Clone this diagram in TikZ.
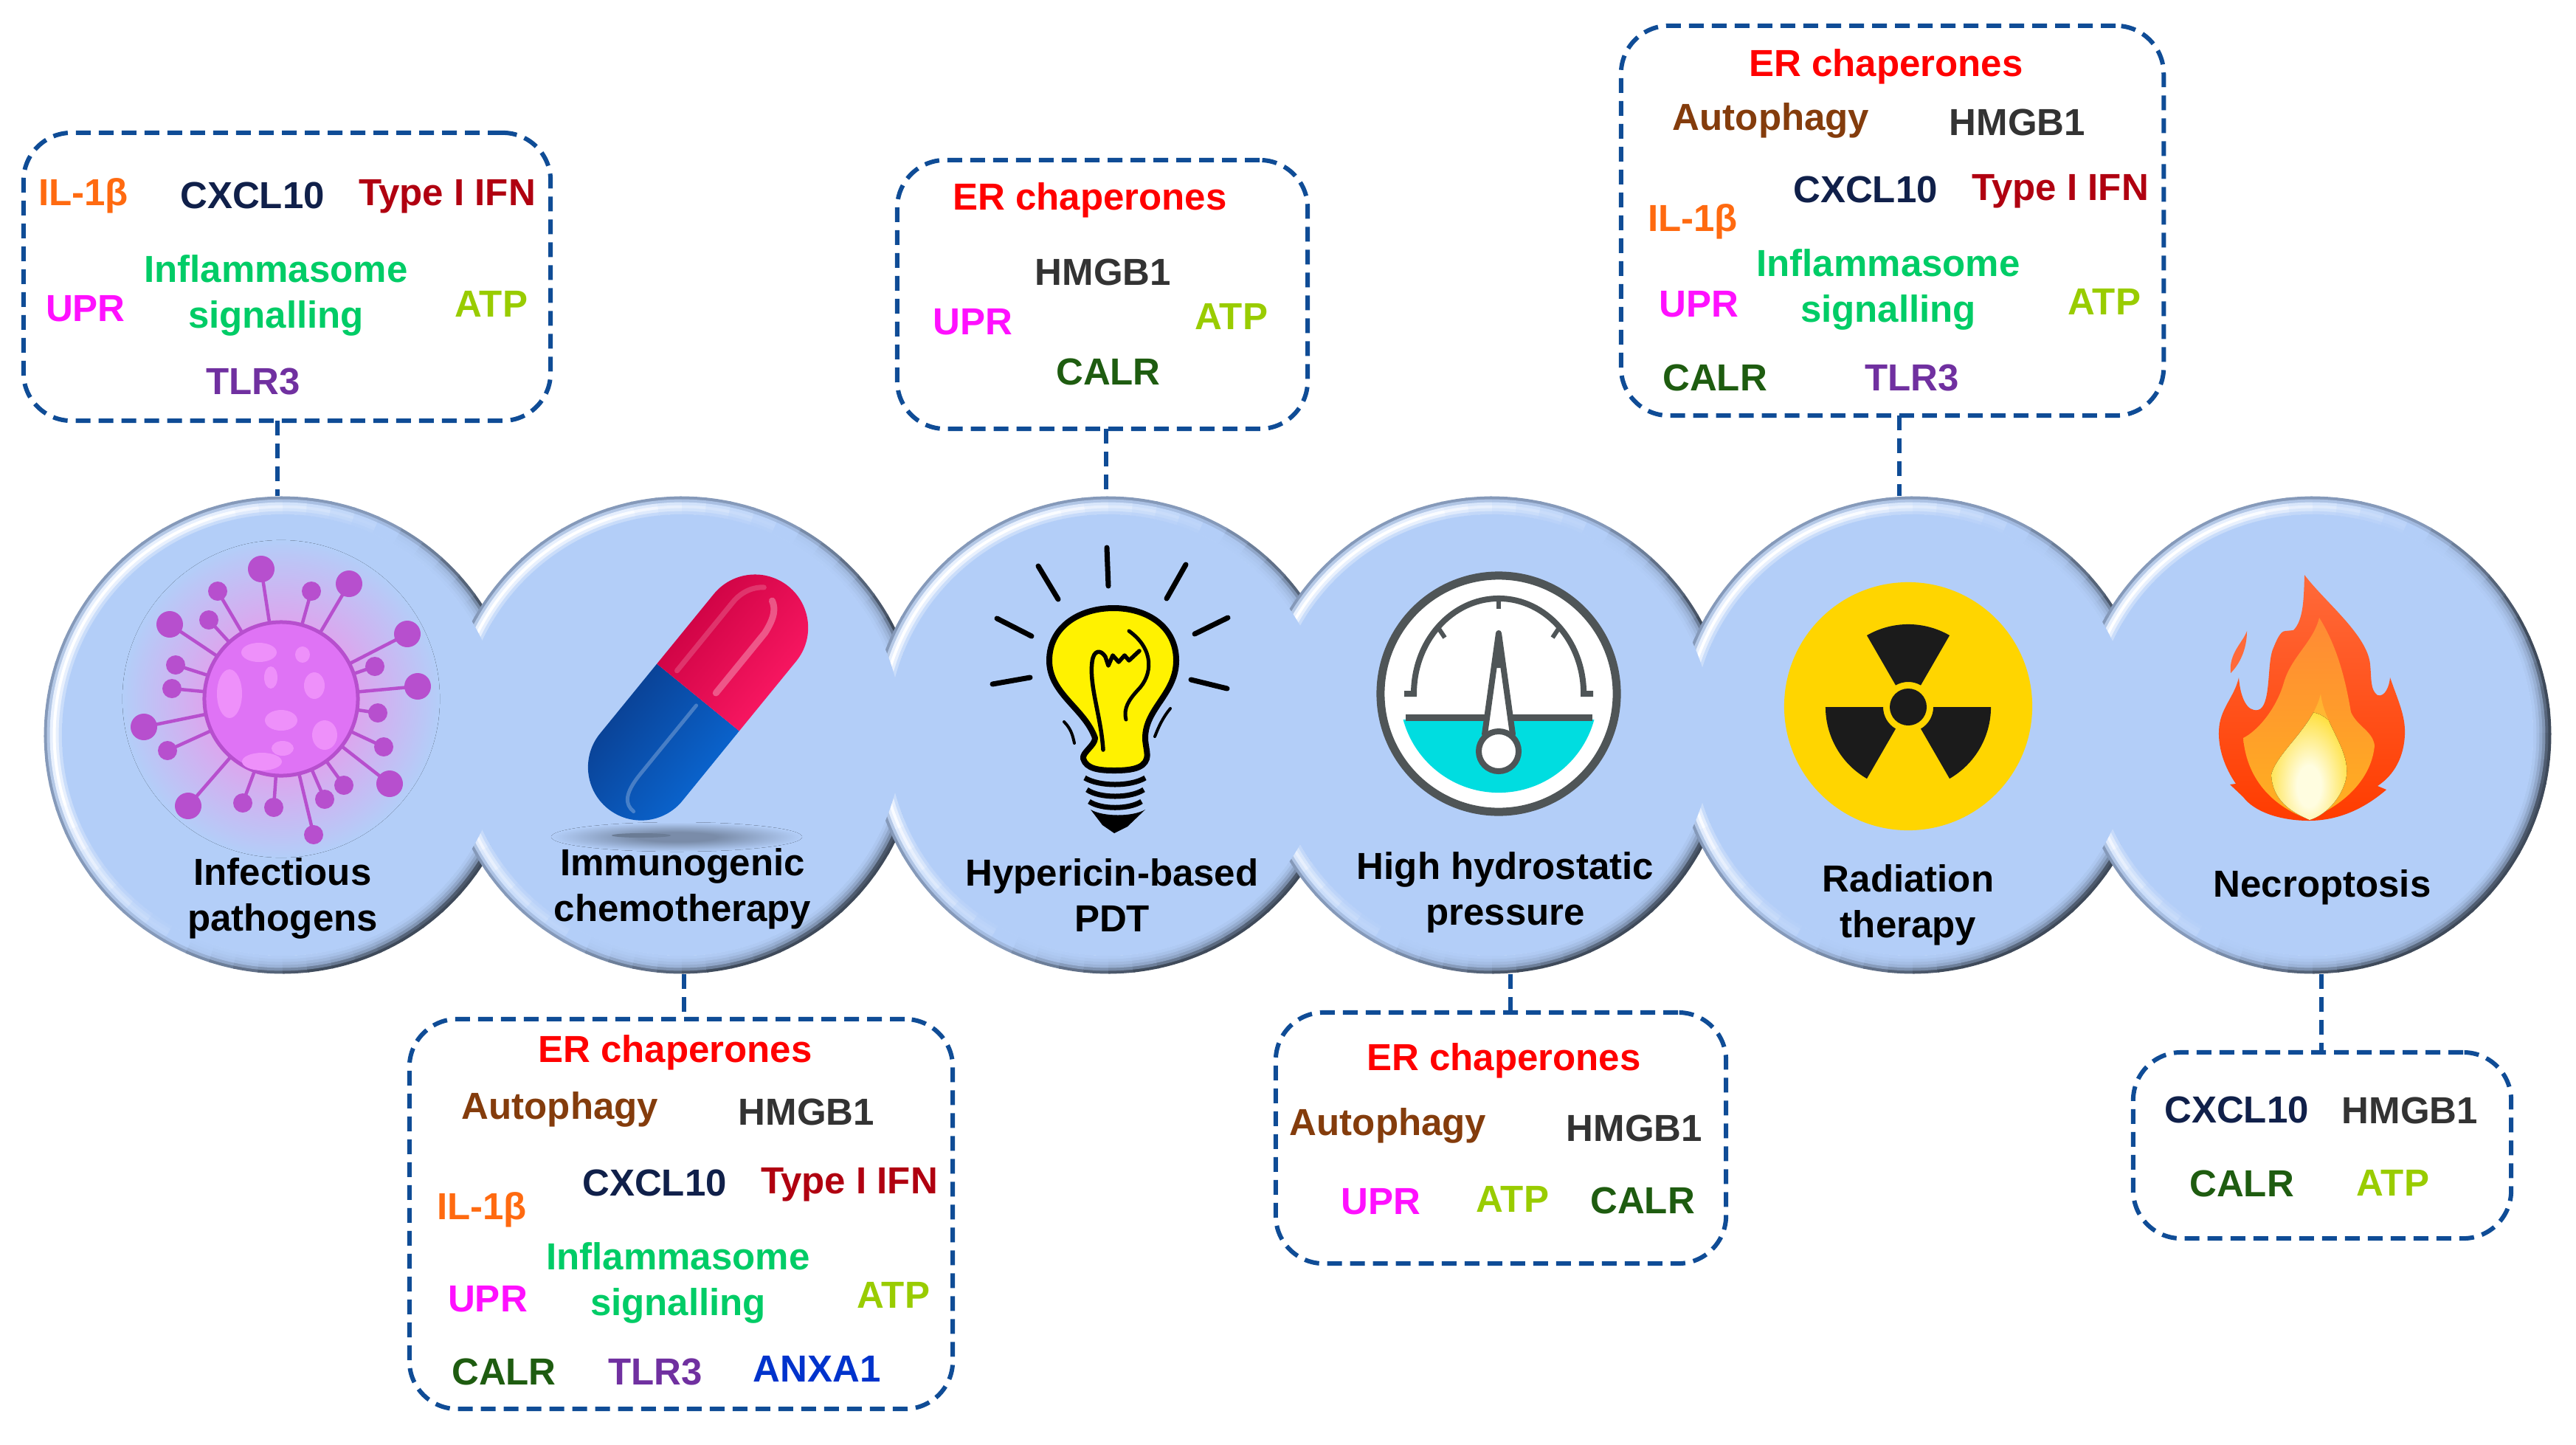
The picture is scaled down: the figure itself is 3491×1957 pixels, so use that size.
\documentclass[tikz,border=0pt]{standalone}
\usepackage{fontspec}
\setmainfont{Liberation Sans}
\definecolor{base}{HTML}{B3CEF8}
\definecolor{ringdark}{HTML}{3F4A5A}
\definecolor{dashblue}{HTML}{0F4C96}
\definecolor{erred}{HTML}{FF0000}
\definecolor{ilorange}{HTML}{FF6A10}
\definecolor{cxnavy}{HTML}{10204A}
\definecolor{ifnred}{HTML}{B00010}
\definecolor{infgreen}{HTML}{00CC66}
\definecolor{uprpink}{HTML}{FF10FF}
\definecolor{atplime}{HTML}{99CC00}
\definecolor{tlrpurple}{HTML}{7030A0}
\definecolor{autobrown}{HTML}{843C0C}
\definecolor{hmgray}{HTML}{333333}
\definecolor{calgreen}{HTML}{1E5C10}
\definecolor{anxblue}{HTML}{0033CC}
\definecolor{virus}{HTML}{B74FCE}
\definecolor{virusbody}{HTML}{DF73F5}
\definecolor{virusspot}{HTML}{EE90FA}
\definecolor{virusglow}{HTML}{DCA6EE}
\definecolor{gaugeink}{HTML}{4F5557}
\definecolor{gaugecyan}{HTML}{00DDE0}
\definecolor{bulbyellow}{HTML}{FFF200}
\definecolor{radyellow}{HTML}{FFD500}
\definecolor{radblack}{HTML}{1B1B1B}
\definecolor{flameyel}{HTML}{FFE040}
\definecolor{flamecore}{HTML}{FFFDE0}
\definecolor{flameA}{HTML}{FF6A3A}
\definecolor{flameB}{HTML}{FF3C00}
\definecolor{flameC}{HTML}{FF8A35}
\definecolor{flameD}{HTML}{FFB020}
\definecolor{flameE}{HTML}{FFB030}
\definecolor{capA}{HTML}{0A3C8C}
\definecolor{capB}{HTML}{0A6AD8}
\definecolor{capC}{HTML}{C80040}
\definecolor{capD}{HTML}{FF1A66}
\pgfdeclareradialshading{glowv}{\pgfpoint{0bp}{0bp}}{color(0bp)=(virusglow); color(12bp)=(virusglow); color(25bp)=(base); color(50bp)=(base)}
\pgfdeclareradialshading{glowf}{\pgfpoint{0bp}{0bp}}{color(0bp)=(flamecore); color(7bp)=(flamecore); color(25bp)=(flameyel); color(50bp)=(flameyel)}
\colorlet{shadowmid}{black!32!base}
\pgfdeclareradialshading{shadowc}{\pgfpoint{0bp}{0bp}}{color(0bp)=(shadowmid); color(8bp)=(shadowmid); color(25bp)=(base); color(50bp)=(base)}
\newcommand\tagfont{\fontsize{14.5}{17.4}\selectfont\bfseries}
\tikzset{
  calloutbox/.style={draw=dashblue,line width=.06cm,dash pattern=on .2cm off .11cm,rounded corners=.65cm,inner sep=0pt},
  conn/.style={draw=dashblue,line width=.06cm,dash pattern=on .2cm off .11cm},
  discouter/.style={circle,minimum size=6.46cm,inner sep=0pt},
  discinner/.style={circle,minimum size=5.98cm,inner sep=0pt,fill=base},
  tag/.style={font=\tagfont,anchor=base,inner sep=0pt,align=center},
  tagER/.style={tag,text=erred},
  tagIL/.style={tag,text=ilorange},
  tagCX/.style={tag,text=cxnavy},
  tagIF/.style={tag,text=ifnred},
  tagIN/.style={tag,text=infgreen},
  tagUP/.style={tag,text=uprpink},
  tagAT/.style={tag,text=atplime},
  tagTL/.style={tag,text=tlrpurple},
  tagAU/.style={tag,text=autobrown},
  tagHM/.style={tag,text=hmgray},
  tagCA/.style={tag,text=calgreen},
  tagAN/.style={tag,text=anxblue},
  disclabel/.style={tag,text=black},
}
\begin{document}
\begin{tikzpicture}[x=0.01cm,y=-0.01cm]
\useasboundingbox (0,0) rectangle (3491,1957);
\fill[white] (0,0) rectangle (3491,1957);
% discs
\node[discouter] (c1) at (383,996) {};
\node[discouter] (c2) at (924,996) {};
\node[discouter] (c3) at (1502,996) {};
\node[discouter] (c4) at (2022,996) {};
\node[discouter] (c5) at (2592,996) {};
\node[discouter] (c6) at (3134,996) {};
\foreach \cn in {c1,c2,c3,c4,c5,c6} {
  \foreach \a in {0,6,...,354} {
    \pgfmathsetmacro\tv{cos(\a+30)}
    \pgfmathsetmacro\tp{max(\tv,0)}
    \pgfmathsetmacro\tm{min(max(-\tv*1.4,0),1)}
    \foreach \R/\fd/\fw/\ed in {3.21/1/0/.4,3.17/.75/.2/.15,3.13/.5/.7/0,3.09/.3/1/0,3.05/.15/.7/0,3.01/.05/.3/0} {
      \pgfmathsetmacro\dk{100*min(1,\ed+\fd*\tp)}
      \pgfmathsetmacro\wk{100-100*\fw*\tm}
      \draw[line width=.045cm,color={ringdark!\dk!base!\wk!white}]
        ([shift={(\a:\R cm)}]\cn.center) arc[start angle=\a,delta angle=6.5,radius=\R cm];
    }
  }
}
\foreach \cn in {c1,c2,c3,c4,c5,c6} { \node[discinner] at (\cn.center) {}; }
% virus
\fill[shading=glowv] (381,947) circle[radius=2.15cm];
\foreach \x/\y/\r in {354/771/18,295/801/13,422/801/13,473/791/18,230/846/18,283/840/13,552/859/18,238/901/13,233/933/13,508/903/13,566/930/18,512/966/13,195/985/18,227/1017/13,520/1012/13,528/1062/18,466/1064/13,440/1083/13,425/1131/13,255/1092/18,329/1088/13,371/1094/13} {
  \draw[virus,line width=.045cm] (381,947) -- (\x,\y);
  \fill[virus] (\x,\y) circle[radius=\r*0.01cm];
}
\fill[virusbody,draw=virus,line width=.05cm] (381,947) circle[radius=1.04cm];
\foreach \x/\y/\rx/\ry in {351/884/24/13,410/887/10/11,311/940/17/33,426/929/14/18,367/918/9/15,381/976/22/14,440/996/17/20,383/1014/15/10,355/1032/27/12} {
  \fill[virusspot] (\x,\y) ellipse[x radius=\rx*0.01cm,y radius=\ry*0.01cm];
}
% capsule
\fill[shading=shadowc] (917,1134) ellipse[x radius=1.7cm,y radius=.2cm];
\fill[black!40!base] (869,1132) ellipse[x radius=.4cm,y radius=.03cm];
\begin{scope}[shift={(946,945)},rotate=50.8]
  \shade[top color=capA,bottom color=capB,shading angle=50.8]
    (0,-72) -- (-122,-72) arc[start angle=90,end angle=270,radius=.72cm] -- (0,72) -- cycle;
  \shade[top color=capC,bottom color=capD,shading angle=50.8]
    (0,-72) -- (122,-72) arc[start angle=90,end angle=-90,radius=.72cm] -- (0,72) -- cycle;
  \draw[white,opacity=.25,line width=.05cm,line cap=round] (-10,5) -- (-130,5) .. controls (-165,5) and (-175,15) .. (-175,30);
  \draw[white,opacity=.3,line width=.09cm,line cap=round] (20,15) -- (125,15) .. controls (150,12) and (160,5) .. (165,-5);
  \draw[white,opacity=.18,line width=.07cm,line cap=round] (10,-45) -- (130,-45) .. controls (150,-45) and (165,-35) .. (172,-25);
\end{scope}
% bulb
\draw[black,line width=.07cm,line cap=round] (1500,742) -- (1502,794);
\draw[black,line width=.07cm,line cap=round] (1407,767) -- (1434,812);
\draw[black,line width=.07cm,line cap=round] (1607,765) -- (1581,811);
\draw[black,line width=.07cm,line cap=round] (1351,838) -- (1398,862);
\draw[black,line width=.07cm,line cap=round] (1664,837) -- (1619,859);
\draw[black,line width=.07cm,line cap=round] (1345,927) -- (1396,918);
\draw[black,line width=.07cm,line cap=round] (1663,933) -- (1614,921);
\draw[black,line width=.04cm,line cap=round] (1442,978) .. controls (1452,988) and (1454,998) .. (1456,1007);
\draw[black,line width=.04cm,line cap=round] (1586,960) .. controls (1576,972) and (1570,985) .. (1565,998);
\fill[bulbyellow,draw=black,line width=.08cm,line join=round]
  (1484,1000) .. controls (1470,960) and (1422,940) .. (1422,895)
  .. controls (1422,850) and (1462,824) .. (1509,824)
  .. controls (1556,824) and (1594,850) .. (1594,895)
  .. controls (1594,940) and (1552,960) .. (1552,1000)
  .. controls (1552,1010) and (1556,1020) .. (1554,1028)
  .. controls (1550,1042) and (1530,1044) .. (1510,1044)
  .. controls (1490,1044) and (1472,1042) .. (1468,1028)
  .. controls (1466,1020) and (1484,1010) .. (1484,1000) -- cycle;
\draw[black,line width=.055cm,line cap=round,line join=round]
  (1495,1016) .. controls (1492,970) and (1476,930) .. (1480,897)
  .. controls (1482,880) and (1492,880) .. (1498,890) -- (1502,902) -- (1508,888) -- (1516,897) -- (1524,888) -- (1530,895) -- (1544,882);
\draw[black,line width=.05cm,line cap=round]
  (1530,855) .. controls (1565,880) and (1562,915) .. (1542,935) .. controls (1530,948) and (1522,960) .. (1526,975);
\draw[black,line width=.07cm] (1470,1054) .. controls (1490,1066) and (1532,1066) .. (1552,1054);
\draw[black,line width=.07cm] (1473,1070) .. controls (1490,1082) and (1532,1082) .. (1550,1070);
\draw[black,line width=.07cm] (1476,1086) .. controls (1492,1097) and (1530,1097) .. (1547,1086);
\fill[black] (1478,1097) .. controls (1495,1107) and (1535,1107) .. (1552,1097) -- (1528,1120) -- (1510,1129) -- (1494,1118) -- cycle;
% gauge
\fill[white,draw=gaugeink,line width=.11cm] (2031,940) circle[radius=1.6cm];
\begin{scope}
  \clip (1850,975) rectangle (2210,1110);
  \fill[gaugecyan] (2031,940) circle[radius=1.34cm];
\end{scope}
\draw[gaugeink,line width=.08cm] (1903,940) -- (1916,940) arc[start angle=180,end angle=0,x radius=1.15cm,y radius=1.29cm] -- (2159,940);
\draw[gaugeink,line width=.06cm] (2031,811) -- (2031,825);
\draw[gaugeink,line width=.06cm] (1950,852) -- (1958,864);
\draw[gaugeink,line width=.06cm] (2112,852) -- (2104,864);
\draw[gaugeink,line width=.09cm] (1905,972) -- (2158,972);
\fill[white,draw=gaugeink,line width=.08cm,line join=round] (2031,858) -- (2050,995) -- (2012,995) -- cycle;
\fill[white,draw=gaugeink,line width=.08cm] (2031,1018) circle[radius=.27cm];
\fill[gaugeink] (2031,858) -- (2036,905) -- (2026,905) -- cycle;
% radiation
\fill[radyellow] (2586,957) circle[radius=1.68cm];
\begin{scope}[shift={(2586,958)}]
  \foreach \s in {60,180,300} {
    \pgfmathsetmacro\st{\s+60}
    \fill[radblack] (\s:.34cm) -- (\s:1.12cm) arc[start angle=\s,delta angle=60,radius=1.12cm] -- (\st:.34cm) arc[start angle=\st,delta angle=-60,radius=.34cm] -- cycle;
  }
  \fill[radblack] (0,0) circle[radius=.25cm];
\end{scope}
% flame
\fill[flameA] (3045,855) .. controls (3040,870) and (3020,885) .. (3023,912) .. controls (3035,900) and (3045,880) .. (3045,855) -- cycle;
\shade[top color=flameA,bottom color=flameB]
  (3123,779) .. controls (3150,815) and (3208,860) .. (3212,900)
  .. controls (3214,920) and (3212,935) .. (3222,942)
  .. controls (3232,945) and (3238,930) .. (3239,918)
  .. controls (3250,950) and (3260,970) .. (3259,995)
  .. controls (3258,1025) and (3245,1050) .. (3222,1065) -- (3234,1070)
  .. controls (3205,1095) and (3170,1112) .. (3129,1112)
  .. controls (3090,1112) and (3055,1100) .. (3040,1080) -- (3022,1063) -- (3030,1062)
  .. controls (3015,1040) and (3006,1015) .. (3007,990)
  .. controls (3008,960) and (3028,945) .. (3034,918)
  .. controls (3036,945) and (3045,965) .. (3060,962)
  .. controls (3078,958) and (3072,900) .. (3080,880)
  .. controls (3085,868) and (3090,855) .. (3097,855) -- (3108,854)
  .. controls (3122,840) and (3122,810) .. (3123,779) -- cycle;
\shade[top color=flameC,bottom color=flameD]
  (3143,837) .. controls (3170,880) and (3180,930) .. (3186,965)
  .. controls (3195,985) and (3215,990) .. (3218,1010)
  .. controls (3215,1045) and (3190,1085) .. (3129,1110)
  .. controls (3085,1095) and (3045,1060) .. (3040,1000)
  .. controls (3060,990) and (3085,960) .. (3095,925)
  .. controls (3105,890) and (3135,870) .. (3143,837) -- cycle;
\shade[top color=flameE,bottom color=flameyel] (3145,940) .. controls (3150,985) and (3190,1020) .. (3178,1060)
  .. controls (3170,1085) and (3150,1105) .. (3130,1111)
  .. controls (3105,1100) and (3080,1085) .. (3078,1050)
  .. controls (3085,1020) and (3135,985) .. (3145,940) -- cycle;
\begin{scope}
  \clip (3145,940) .. controls (3150,985) and (3190,1020) .. (3178,1060)
  .. controls (3170,1085) and (3150,1105) .. (3130,1111)
  .. controls (3105,1100) and (3080,1085) .. (3078,1050)
  .. controls (3085,1020) and (3135,985) .. (3145,940) -- cycle;
  \fill[shading=glowf] (3129,1065) ellipse[x radius=.58cm,y radius=1.0cm];
\end{scope}
% boxes and connectors
\node[calloutbox,minimum width=7.14cm,minimum height=3.90cm] (boxA) at (389,375) {};
\node[calloutbox,minimum width=7.36cm,minimum height=5.28cm] (boxB) at (923,1645) {};
\node[calloutbox,minimum width=5.56cm,minimum height=3.64cm] (boxC) at (1494,399) {};
\node[calloutbox,minimum width=6.10cm,minimum height=3.40cm] (boxD) at (2034,1542) {};
\node[calloutbox,minimum width=7.35cm,minimum height=5.28cm] (boxE) at (2564.5,299) {};
\node[calloutbox,minimum width=5.12cm,minimum height=2.52cm] (boxF) at (3147,1552) {};
\coordinate (jA) at (376,570);
\coordinate (jB) at (927,1381);
\coordinate (jC) at (1499,581);
\coordinate (jD) at (2047,1372);
\coordinate (jE) at (2574,563);
\coordinate (jF) at (3146,1426);
\draw[conn] (jA) -- (jA |- c1.north);
\draw[conn] (jB |- c2.south) -- (jB);
\draw[conn] (jC) -- (jC |- c3.north);
\draw[conn] (jD |- c4.south) -- (jD);
\draw[conn] (jE) -- (jE |- c5.north);
\draw[conn] (jF |- c6.south) -- (jF);
% disc labels (anchor base is the last line)
\node[disclabel] (l1) at (383,1261) {Infectious\\pathogens};
\node[disclabel] (l2) at (925,1248) {Immunogenic\\chemotherapy};
\node[disclabel] (l3) at (1507,1262) {Hypericin-based\\PDT};
\node[disclabel] (l4) at (2040,1253) {High hydrostatic\\pressure};
\node[disclabel] (l5) at (2586,1270) {Radiation\\therapy};
\node[disclabel] (l6) at (3147,1215) {Necroptosis};
% box A
\node[tagIL] (a1) at (113,278) {IL-1β};
\node[tagCX] (a2) at (342,282) {CXCL10};
\node[tagIF] (a3) at (606,278) {Type I IFN};
\node[tagIN] (a4) at (374,444) {Inflammasome\\signalling};
\node[tagUP] (a5) at (116,435) {UPR};
\node[tagAT] (a6) at (666,429) {ATP};
\node[tagTL] (a7) at (343,534) {TLR3};
% box B
\node[tagER] (b1) at (915,1439) {ER chaperones};
\node[tagAU] (b2) at (759,1516) {Autophagy};
\node[tagHM] (b3) at (1093,1524) {HMGB1};
\node[tagCX] (b4) at (887,1620) {CXCL10};
\node[tagIF] (b5) at (1151,1617) {Type I IFN};
\node[tagIL] (b6) at (653,1652) {IL-1β};
\node[tagIN] (b7) at (919,1782) {Inflammasome\\signalling};
\node[tagUP] (b8) at (661,1777) {UPR};
\node[tagAT] (b9) at (1211,1772) {ATP};
\node[tagCA] (b10) at (683,1876) {CALR};
\node[tagTL] (b11) at (888,1876) {TLR3};
\node[tagAN] (b12) at (1107,1872) {ANXA1};
% box C
\node[tagER] (d1) at (1477,284) {ER chaperones};
\node[tagHM] (d2) at (1495,386) {HMGB1};
\node[tagUP] (d3) at (1318,453) {UPR};
\node[tagAT] (d4) at (1669,446) {ATP};
\node[tagCA] (d5) at (1502,521) {CALR};
% box D
\node[tagER] (e1) at (2038,1450) {ER chaperones};
\node[tagAU] (e2) at (1881,1538) {Autophagy};
\node[tagHM] (e3) at (2215,1546) {HMGB1};
\node[tagUP] (e4) at (1871,1645) {UPR};
\node[tagAT] (e5) at (2050,1642) {ATP};
\node[tagCA] (e6) at (2226,1644) {CALR};
% box E
\node[tagER] (f1) at (2556,103) {ER chaperones};
\node[tagAU] (f2) at (2400,176) {Autophagy};
\node[tagHM] (f3) at (2734,183) {HMGB1};
\node[tagCX] (f4) at (2528,274) {CXCL10};
\node[tagIF] (f5) at (2792,271) {Type I IFN};
\node[tagIL] (f6) at (2294,313) {IL-1β};
\node[tagIN] (f7) at (2559,436) {Inflammasome\\signalling};
\node[tagUP] (f8) at (2302,429) {UPR};
\node[tagAT] (f9) at (2852,426) {ATP};
\node[tagCA] (f10) at (2324,529) {CALR};
\node[tagTL] (f11) at (2591,529) {TLR3};
% box F
\node[tagCX] (g1) at (3031,1521) {CXCL10};
\node[tagHM] (g2) at (3266,1522) {HMGB1};
\node[tagCA] (g3) at (3038,1621) {CALR};
\node[tagAT] (g4) at (3243,1620) {ATP};
\end{tikzpicture}
\end{document}
